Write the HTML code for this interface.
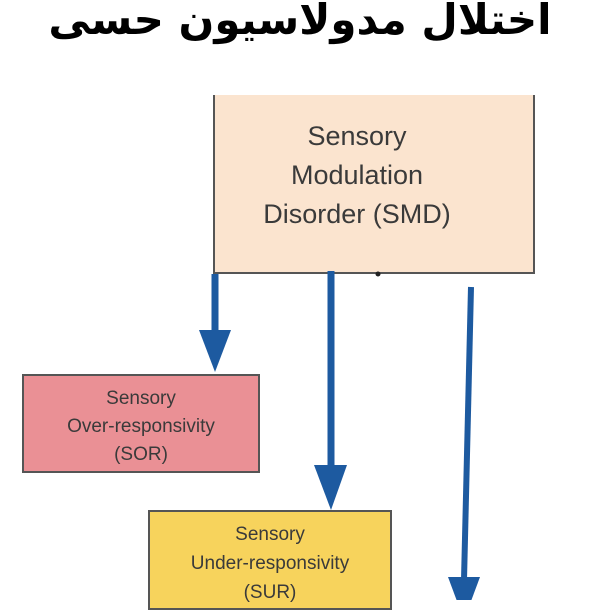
<!DOCTYPE html>
<html><head><meta charset="utf-8"><style>
html,body{margin:0;padding:0;background:#fff;}
body{width:600px;height:600px;position:relative;overflow:hidden;font-family:"Liberation Sans",Arial,sans-serif;}
.title{position:absolute;left:-100px;width:800px;top:-10px;text-align:center;font-family:"DejaVu Sans","Noto Sans CJK SC",sans-serif;font-weight:bold;font-size:42px;line-height:60px;color:#000;direction:rtl;white-space:nowrap;}
.box{position:absolute;box-sizing:border-box;border:2px solid #555;text-align:center;color:#3a3a3a;}
</style></head><body>
<div class="title">اختلال مدولاسیون حسی</div>
<div class="box" style="left:213px;top:95px;width:322px;height:179px;background:#fbe4cf;border-top:none;font-size:27px;line-height:39px;padding-top:22px;padding-right:34px;">Sensory<br>Modulation<br>Disorder (SMD)</div>
<div class="box" style="left:22px;top:374px;width:238px;height:99px;background:#ea9095;font-size:19px;line-height:28px;padding-top:9px;">Sensory<br>Over-responsivity<br>(SOR)</div>
<div class="box" style="left:148px;top:510px;width:244px;height:100px;background:#f7d35c;font-size:19px;line-height:29px;padding-top:8px;">Sensory<br>Under-responsivity<br>(SUR)</div>
<svg width="600" height="600" style="position:absolute;left:0;top:0" viewBox="0 0 600 600">
<g fill="#1d5aa0" stroke="#1d5aa0">
<line x1="215" y1="274" x2="215" y2="335" stroke-width="7"/>
<polygon points="199,330 231,330 215,372" stroke="none"/>
<line x1="331" y1="271" x2="331" y2="470" stroke-width="7"/>
<polygon points="314,465 347,465 331,510" stroke="none"/>
<line x1="471" y1="287" x2="464" y2="580" stroke-width="6"/>
<polygon points="448,577 480,577 464,620" stroke="none"/>
</g>
<circle cx="378" cy="274" r="2.5" fill="#222"/>
</svg>
</body></html>
